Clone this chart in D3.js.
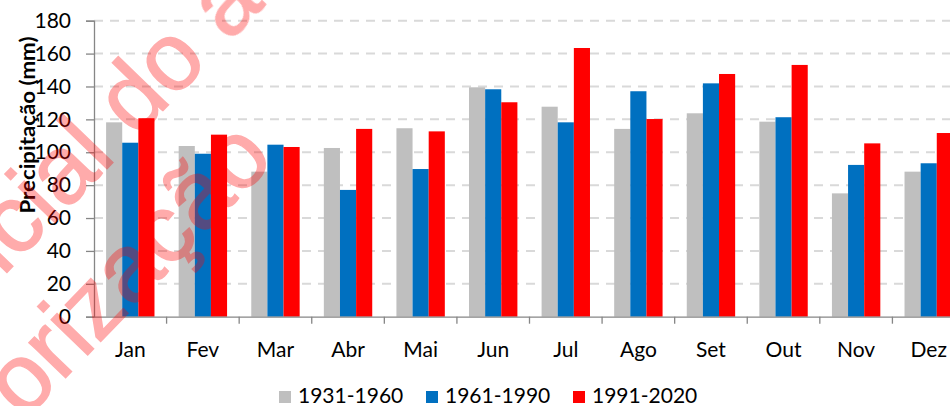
<!DOCTYPE html>
<html>
<head>
<meta charset="utf-8">
<script src="https://cdn.jsdelivr.net/npm/d3@7"></script>
<style>
  body { margin: 0; background: #fff; }
  svg { display: block; font-family: Lato, "Open Sans", sans-serif; }
</style>
</head>
<body>
<div id="chartdiv"></div>
<script>
/* --- data --- */
let months = ["Jan", "Fev", "Mar", "Abr", "Mai", "Jun", "Jul", "Ago", "Set", "Out", "Nov", "Dez"]
let seriesNames = ["1931-1960", "1961-1990", "1991-2020"]
let p1931 = [118.2, 103.8, 88.2, 102.6, 114.6, 139.5, 127.7, 114.2, 123.7, 118.6, 75.0, 88.2]
let p1961 = [105.8, 99.1, 104.6, 77.1, 89.8, 138.3, 118.2, 137.1, 141.9, 121.3, 92.3, 93.3]
let p1991 = [120.7, 110.7, 103.2, 114.2, 112.7, 130.4, 163.4, 120.2, 147.6, 153.1, 105.4, 111.7]
let yTicks = [0, 20, 40, 60, 80, 100, 120, 140, 160, 180]
let colors = ["#bfbfbf", "#0070c0", "#ff0000"]
/* ------------ */

let width = 950
let height = 406
let leftEdge = 94
let rightEdge = 965   // plot runs past the window, like the original
let topY = 20.7
let bottomY = 316.7

function drawChart(){
   let svg = d3.select('#chartdiv')
      .append('svg')
      .attr("width", width)
      .attr("height", height)

   let x0 = d3.scaleBand()
      .domain(months)
      .range([leftEdge, rightEdge])
      .paddingInner(0).paddingOuter(0)
   let x1 = d3.scaleBand()
      .domain(seriesNames)
      .range([0, x0.bandwidth()])
      .paddingInner(0).paddingOuter(0.75)
   let y = d3.scaleLinear()
      .domain([0, 180])
      .range([bottomY, topY])

   // grid lines
   svg.append("g")
      .selectAll("line")
      .data(yTicks.filter(d => d > 0))
      .join("line")
      .attr("x1", leftEdge).attr("x2", rightEdge)
      .attr("y1", d => y(d)).attr("y2", d => y(d))
      .attr("stroke", "#d9d9d9")
      .attr("stroke-width", 2)
      .attr("stroke-dasharray", "9,7")

   // bars
   let allSeries = [p1931, p1961, p1991]
   allSeries.forEach((vals, si) => {
      svg.append("g")
         .selectAll("rect")
         .data(vals)
         .join("rect")
         .attr("x", (d, i) => x0(months[i]) + x1(seriesNames[si]))
         .attr("y", d => y(d))
         .attr("width", x1.bandwidth())
         .attr("height", d => y(0) - y(d))
         .attr("fill", colors[si])
   })

   // y axis
   let y_axis = d3.axisLeft(y).tickValues(yTicks).tickSize(8).tickPadding(15)
   let gy = svg.append("g")
      .attr("transform", `translate(${leftEdge},0)`)
      .call(y_axis)
   gy.select(".domain").attr("stroke", "#868686").attr("stroke-width", 1.3)
   gy.selectAll(".tick line").attr("stroke", "#868686").attr("stroke-width", 1.3)
   gy.selectAll("text")
      .attr("font-size", 21)
      .attr("font-family", "Lato, sans-serif")
      .attr("fill", "#000")

   // x axis
   let x_axis = d3.axisBottom(x0).tickSize(0).tickPadding(25)
   let gx = svg.append("g")
      .attr("transform", `translate(0,${bottomY})`)
      .call(x_axis)
   gx.select(".domain").attr("stroke", "#868686").attr("stroke-width", 1.3)
   gx.selectAll("text")
      .attr("font-size", 21)
      .attr("font-family", "Lato, sans-serif")
      .attr("fill", "#000")
   gx.append("g")
      .selectAll("line")
      .data(months.slice(1))
      .join("line")
      .attr("x1", d => x0(d)).attr("x2", d => x0(d))
      .attr("y1", 0).attr("y2", 7)
      .attr("stroke", "#868686").attr("stroke-width", 1.3)

   // y label
   svg.append("text")
      .attr("transform", "translate(35,125) rotate(-90)")
      .attr("text-anchor", "middle")
      .attr("font-size", 20)
      .attr("font-weight", "bold")
      .attr("textLength", 177)
      .attr("lengthAdjust", "spacingAndGlyphs")
      .attr("fill", "#000")
      .text("Precipitação (mm)")

   // legend
   let legX = [279, 426, 573]
   let leg = svg.append("g")
   seriesNames.forEach((name, i) => {
      leg.append("rect")
         .attr("x", legX[i]).attr("y", 391)
         .attr("width", 12).attr("height", 12)
         .attr("fill", colors[i])
      leg.append("text")
         .attr("x", legX[i] + 19).attr("y", 403)
         .attr("font-size", 21)
         .attr("fill", "#000")
         .text(name)
   })

   // watermark
   let wm = svg.append("g")
      .attr("fill", "#ff0000")
      .attr("stroke", "#ff0000")
      .attr("stroke-width", 1.5)
      .attr("opacity", 0.33)
      .attr("font-family", "Liberation Sans, Arial, sans-serif")
      .attr("font-size", 96)
   wm.append("text")
      .attr("transform", "translate(210,62) rotate(-46)")
      .attr("text-anchor", "end")
      .text("Uso não oficial do")
   wm.append("text")
      .attr("transform", "translate(210,62) rotate(-46)")
      .text("\u00a0autor")
   wm.append("text")
      .attr("transform", "translate(276,160) rotate(-46)")
      .attr("text-anchor", "end")
      .text("sem autorização")
}
drawChart()
</script>
</body>
</html>
